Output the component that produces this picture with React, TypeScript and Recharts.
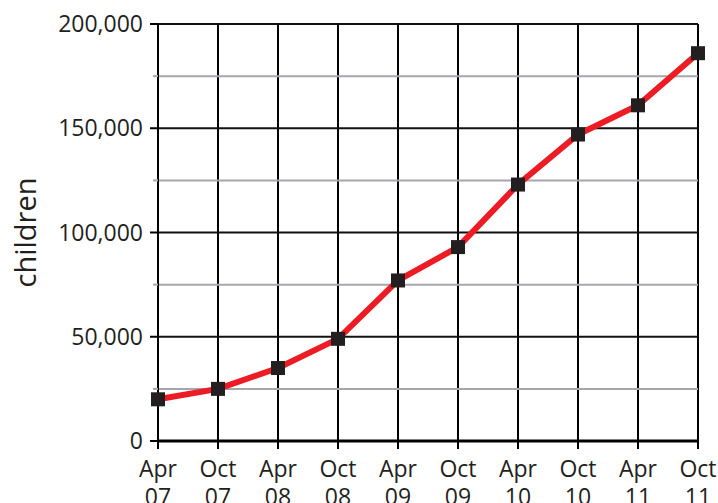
import React from 'react';
import { LineChart, Line, XAxis, YAxis, CartesianGrid, ReferenceLine } from 'recharts';

const months = ['Apr', 'Oct', 'Apr', 'Oct', 'Apr', 'Oct', 'Apr', 'Oct', 'Apr', 'Oct'];
const years = ['07', '07', '08', '08', '09', '09', '10', '10', '11', '11'];
const children = [20000, 25000, 35000, 49000, 77000, 93000, 123000, 147000, 161000, 186000];

const majorTicks = [0, 50000, 100000, 150000, 200000];
const minorTicks = [25000, 75000, 125000, 175000];

const FONT = '"Open Sans", "Noto Sans", sans-serif';

const data = months.map((m, i) => ({ label: `${m} ${years[i]}`, month: m, year: years[i], children: children[i] }));

const YTick = (props: any) => {
  const { x, y, payload } = props;
  const major = majorTicks.includes(payload.value);
  return (
    <g>
      <line x1={x - (major ? 8 : 5)} x2={x} y1={y} y2={y} stroke={major ? '#000' : '#a6a6ae'} strokeWidth={2} />
      {major && (
        <text x={x - 15} y={y + 8} textAnchor="end" fontSize={23} fontFamily={FONT} fill="#231f20">
          {payload.value.toLocaleString('en-US')}
        </text>
      )}
    </g>
  );
};

const XTick = (props: any) => {
  const { x, y, index } = props;
  return (
    <g>
      <line x1={x} x2={x} y1={y} y2={y + 8} stroke="#000" strokeWidth={2} />
      <text x={x} textAnchor="middle" fontSize={23} fontFamily={FONT} fill="#231f20">
        <tspan x={x} y={y + 36}>{months[index]}</tspan>
        <tspan x={x} y={y + 64}>{years[index]}</tspan>
      </text>
    </g>
  );
};

const SquareDot = (props: any) => {
  const { cx, cy } = props;
  if (cx == null || cy == null) return null;
  return <rect x={cx - 7} y={cy - 7} width={14} height={14} fill="#231f20" />;
};

export default function App() {
  return (
    <div style={{ position: 'absolute', left: 0, top: 0, width: 718, height: 503, background: '#fff' }}>
      <LineChart width={718} height={503} data={data} margin={{ top: 24, right: 20, bottom: 0, left: 0 }}>
        <CartesianGrid horizontal={false} stroke="#000" strokeWidth={2} />
        {minorTicks.map((v) => (
          <ReferenceLine key={`mi-${v}`} y={v} stroke="#a6a6ae" strokeWidth={2} />
        ))}
        {majorTicks.map((v) => (
          <ReferenceLine key={`ma-${v}`} y={v} stroke="#111" strokeWidth={2} />
        ))}
        <XAxis
          dataKey="label"
          height={62}
          interval={0}
          tickSize={0}
          tickMargin={0}
          tickLine={false}
          axisLine={{ stroke: '#000', strokeWidth: 3 }}
          tick={<XTick />}
        />
        <YAxis
          width={158}
          domain={[0, 200000]}
          ticks={[...majorTicks, ...minorTicks].sort((a, b) => a - b)}
          interval={0}
          tickSize={0}
          tickMargin={0}
          tickLine={false}
          axisLine={{ stroke: '#000', strokeWidth: 2 }}
          tick={<YTick />}
          label={{
            value: 'children',
            angle: -90,
            position: 'insideLeft',
            offset: 26,
            style: { fontSize: 29, fontFamily: FONT, fill: '#231f20', textAnchor: 'middle' },
          }}
        />
        <Line
          type="linear"
          dataKey="children"
          stroke="#ed1c24"
          strokeWidth={6}
          dot={<SquareDot />}
          activeDot={false}
          isAnimationActive={false}
        />
      </LineChart>
    </div>
  );
}
